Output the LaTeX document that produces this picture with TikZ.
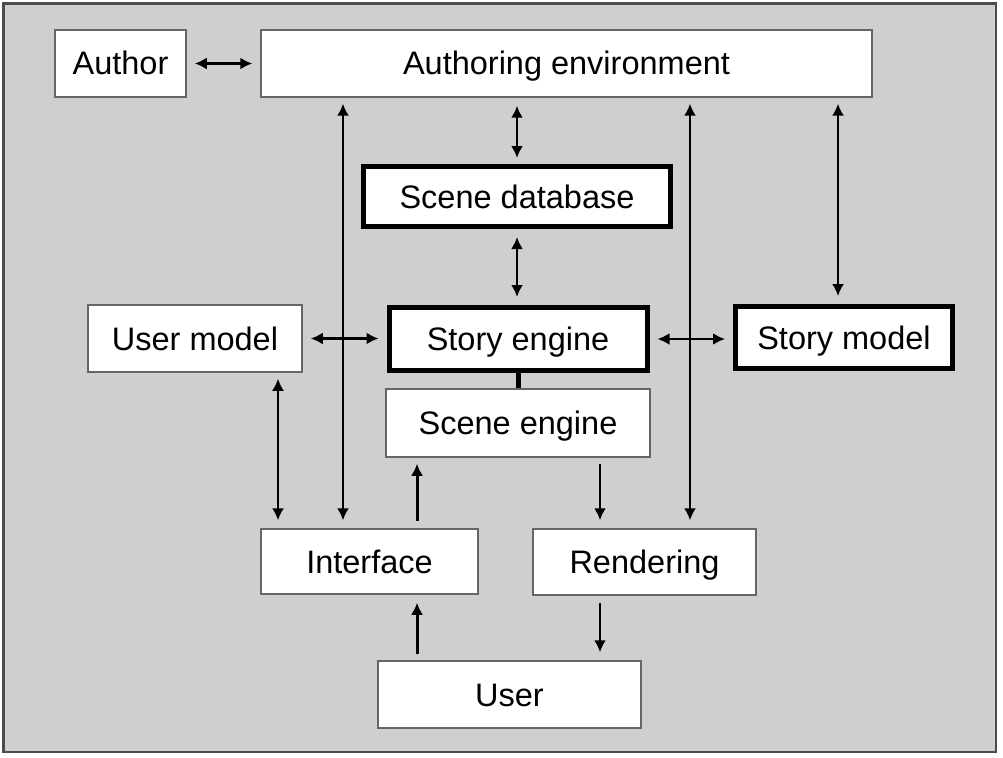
\documentclass[tikz,border=0pt]{standalone}
\usepackage{fontspec}
\setmainfont{Liberation Sans}
\usetikzlibrary{arrows.meta}

\tikzset{
  box/.style={draw=black!60, line width=1.5pt, fill=white, font=\fontsize{32.5}{38}\selectfont,
    text height=26pt, text depth=3pt},
  boldbox/.style={box, draw=black, line width=5pt},
  link/.style={line width=2.5pt, shorten >=8pt, shorten <=8pt},
  longlink/.style={line width=2pt, shorten >=8pt, shorten <=6pt},
}

\begin{document}
\begin{tikzpicture}[x=1pt, y=-1pt, >={Latex[length=12pt,width=12pt]}]
\useasboundingbox (0,0) rectangle (1003,757);
% frame
\draw[fill=black!19, draw=black!70, line width=2.5pt] (3.5,3.5) rectangle (996,752);
% boxes
\node[box, minimum width=131pt, minimum height=67pt] (author) at (120.5,63.5) {Author};
\node[box, minimum width=611pt, minimum height=67pt] (authenv) at (566.5,63.5) {Authoring environment};
\node[boldbox, minimum width=307pt, minimum height=60pt] (scenedb) at (517,196.5) {Scene database};
\node[box, minimum width=214pt, minimum height=67pt] (usermodel) at (195,338.5) {User model};
\node[boldbox, minimum width=258pt, minimum height=63pt] (storyeng) at (518,339) {Story engine};
\node[boldbox, minimum width=217pt, minimum height=62pt] (storymodel) at (844,337.5) {Story model};
\node[box, minimum width=264pt, minimum height=68pt] (sceneeng) at (518,423) {Scene engine};
\node[box, minimum width=217pt, minimum height=65pt] (intf) at (369.5,561.5) {Interface};
\node[box, minimum width=223pt, minimum height=66pt] (render) at (644.5,562) {Rendering};
\node[box, minimum width=263pt, minimum height=67pt] (user) at (509.5,694.5) {User};
% connector points
\coordinate (umdown) at ([xshift=83pt]usermodel.south);
\coordinate (intfup) at ([xshift=-26.5pt]intf.north);
\coordinate (intfin) at ([xshift=47.5pt]intf.north);
\coordinate (renderup) at ([xshift=45.5pt]render.north);
\coordinate (renderin) at ([xshift=-44.5pt]render.north);
\coordinate (smup) at ([xshift=-6pt]storymodel.north);
\coordinate (userout) at ([xshift=-92.5pt]user.north);
\coordinate (userin) at ([xshift=-44.5pt]render.south);
% short arrows
\draw[<->, link] (author) -- (authenv);
\draw[<->, link, shorten <=6pt] (scenedb.north) -- (scenedb.north |- authenv.south);
\draw[<->, link] (scenedb.south) -- (scenedb.south |- storyeng.north);
\draw[<->, link] (usermodel.east) -- (usermodel.east -| storyeng.west);
\draw[<->, link] (storyeng.east) -- (storyeng.east -| storymodel.west);
\draw[line width=5pt] (storyeng.south) -- (storyeng.south |- sceneeng.north);
% long arrows
\draw[<->, longlink] (umdown) -- (umdown |- intf.north);
\draw[<->, longlink] (intfup |- authenv.south) -- (intfup);
\draw[<->, longlink] (renderup |- authenv.south) -- (renderup);
\draw[<->, longlink] (smup |- authenv.south) -- (smup);
% data flow
\draw[->, line width=3pt, shorten >=6pt, shorten <=7pt] (intfin) -- (intfin |- sceneeng.south);
\draw[->, line width=2.5pt, shorten >=8pt, shorten <=6pt] (renderin |- sceneeng.south) -- (renderin);
\draw[->, line width=3pt, shorten >=8pt, shorten <=6pt] (userout) -- (userout |- intf.south);
\draw[->, line width=2.5pt, shorten >=8pt, shorten <=7pt] (userin) -- (userin |- user.north);
\end{tikzpicture}
\end{document}
